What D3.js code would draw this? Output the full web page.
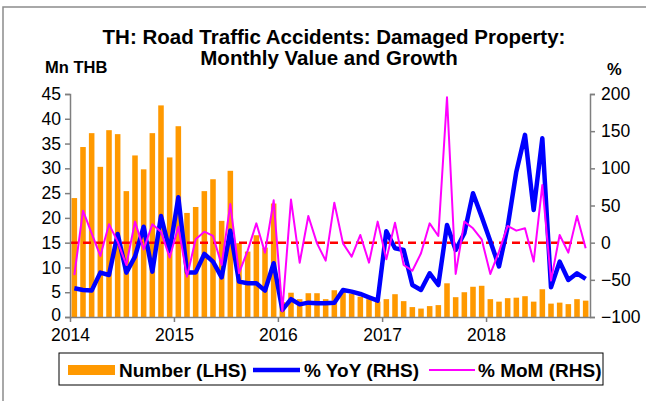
<!DOCTYPE html>
<html>
<head>
<meta charset="utf-8">
<script src="https://cdn.jsdelivr.net/npm/d3@7"></script>
<style>
  body { margin: 0; background: #fff; }
  svg { font-family: Arial, "Liberation Sans", sans-serif; }
</style>
</head>
<body>
<div id="chart"></div>
<script>
// Monthly data, Jan 2014 - Dec 2018
var years = [2014, 2015, 2016, 2017, 2018];

var number = [
  24.0, 34.3, 37.1, 30.3, 37.7, 36.9, 25.4, 32.6, 29.8, 37.1, 42.7, 32.2,
  38.5, 21.0, 22.2, 25.4, 27.8, 19.4, 29.5, 14.9, 13.2, 16.5, 14.0, 22.9,
  3.0, 4.9, 3.6, 4.8, 4.8, 3.6, 5.4, 5.4, 4.7, 4.1, 3.6, 3.1,
  3.6, 4.6, 3.2, 2.0, 1.7, 2.2, 2.4, 6.8, 4.0, 5.0, 6.1, 6.3,
  3.6, 3.1, 3.8, 3.9, 4.2, 3.1, 5.6, 2.7, 2.9, 2.6, 3.6, 3.3
];

var yoy = [
  -61.4, -63.6, -64.5, -40.3, -43.5, 11.7, -40.3, -18.8, 21.5, -39, 35.9, -11,
  61, -40, -40, -15.2, -25.5, -46.6, 16.2, -52.4, -54.7, -54.7, -64.5, -27.7,
  -90.5, -76, -83, -80.7, -81.6, -81.6, -80.7, -63.6, -65.9, -69, -73.5, -78,
  15.5, -7.6, -9.8, -56.9, -63.6, -41.2, -57, 23.8, -9.8, 12.6, 66.5, 35,
  2, -32, 21.5, 95.5, 145, 44, 140.4, -60, -25.5, -50.2, -41.2, -48.8
];

var mom = [
  -43.5, 43, 12.6, -17.9, 24.7, 1.4, -30, 28.3, -9, 24.7, 14.8, -20,
  21.5, -45.7, 4.5, 14.8, 9, -30, 52, -41, -10.7, 26, -13.4, 57,
  -92, 58, -27, 35.9, -1, -24.2, 53.8, -1, -18.8, 10.4, -26.9, 28.3,
  -22.4, 26.9, -30, -37.7, -14.3, 26, 9, 195.6, -42.1, 28.3, 19.3, 4.5,
  -42.1, -12, 22.5, 16.2, 19.3, -25.5, 77.6, -51, 10.4, -13.4, 35.9, -7.6
];

var leftTicks = [0, 5, 10, 15, 20, 25, 30, 35, 40, 45]
  , rightTicks = [-100, -50, 0, 50, 100, 150, 200];

// Sizes
var W = 646, H = 401
  , plot = {left: 70, right: 590, top: 94, bottom: 317}
  , axisColor = "#7f7f7f";

var svg = d3.select("#chart").append("svg")
  .attr("width", W)
  .attr("height", H);

// Outer frame
svg.append("path")
  .attr("d", "M3," + H + "V7H" + W)
  .attr("fill", "none")
  .attr("stroke", "#8c8c8c")
  .attr("stroke-width", 1.5);

// Scales
var months = d3.range(number.length);
var xBand = d3.scaleBand().domain(months).range([plot.left, plot.right]).paddingInner(0.36).paddingOuter(0.18);
var xTime = d3.scaleTime()
  .domain([new Date(years[0], 0, 1), new Date(years[years.length - 1] + 1, 0, 1)])
  .range([plot.left, plot.right]);
var yLeft = d3.scaleLinear().domain([0, 45]).range([plot.bottom, plot.top]);
var yRight = d3.scaleLinear().domain([-100, 200]).range([plot.bottom, plot.top]);

function xMid(i) { return xBand(i) + xBand.bandwidth() / 2; }

// Bars
svg.append("g").selectAll("rect")
  .data(number)
  .join("rect")
  .attr("x", function(d, i) { return xBand(i); })
  .attr("y", function(d) { return yLeft(d); })
  .attr("width", xBand.bandwidth())
  .attr("height", function(d) { return yLeft(0) - yLeft(d); })
  .attr("fill", "#ff9900");

// Zero line for growth
svg.append("line")
  .attr("x1", plot.left).attr("x2", plot.right)
  .attr("y1", yRight(0)).attr("y2", yRight(0))
  .attr("stroke", "#ff0000")
  .attr("stroke-width", 2.5)
  .attr("stroke-dasharray", "8,5");

// Lines
var lineRight = d3.line()
  .x(function(d, i) { return xMid(i); })
  .y(function(d) { return yRight(d); });

svg.append("path")
  .datum(yoy)
  .attr("d", lineRight)
  .attr("fill", "none")
  .attr("stroke", "#0000ff")
  .attr("stroke-width", 4.5)
  .attr("stroke-linejoin", "round");

svg.append("path")
  .datum(mom)
  .attr("d", lineRight)
  .attr("fill", "none")
  .attr("stroke", "#ff00ff")
  .attr("stroke-width", 2)
  .attr("stroke-linejoin", "round");

// Axes
function styleAxis(g) {
  g.selectAll("path, line").attr("stroke", axisColor).attr("stroke-width", 1.5);
  g.selectAll("text").attr("fill", "#000").attr("font-size", 17.5);
  g.attr("font-family", null);
}

svg.append("g")
  .attr("transform", "translate(" + plot.left + ",0)")
  .call(d3.axisLeft(yLeft).tickValues(leftTicks).tickSize(5).tickSizeOuter(5).tickPadding(4))
  .call(styleAxis)
  // nudge the bottom label up so it clears the year labels
  .selectAll(".tick text")
  .filter(function(d) { return d === 0; })
  .attr("dy", "0.2em");

svg.append("g")
  .attr("transform", "translate(" + plot.right + ",0)")
  .call(d3.axisRight(yRight).tickValues(rightTicks).tickSize(5).tickSizeOuter(5).tickPadding(6))
  .call(styleAxis);

svg.append("g")
  .attr("transform", "translate(0," + plot.bottom + ")")
  .call(d3.axisBottom(xTime)
    .tickValues(years.map(function(y) { return new Date(y, 0, 1); }))
    .tickFormat(d3.timeFormat("%Y"))
    .tickSize(5).tickSizeOuter(0).tickPadding(7))
  .call(styleAxis);

// Titles
var title = svg.append("text")
  .attr("text-anchor", "middle")
  .attr("font-weight", "bold")
  .attr("font-size", 20.5);
title.append("tspan").attr("x", 334).attr("y", 44).text("TH: Road Traffic Accidents: Damaged Property:");
title.append("tspan").attr("x", 329).attr("y", 65).text("Monthly Value and Growth");

svg.append("text")
  .attr("x", 45).attr("y", 73)
  .attr("font-weight", "bold").attr("font-size", 16.5)
  .text("Mn THB");

svg.append("text")
  .attr("x", 607).attr("y", 75)
  .attr("font-weight", "bold").attr("font-size", 16.5)
  .text("%");

// Legend
var legend = svg.append("g");
legend.append("rect")
  .attr("x", 59).attr("y", 353)
  .attr("width", 544).attr("height", 32)
  .attr("fill", "#fff")
  .attr("stroke", "#000")
  .attr("stroke-width", 1);

var legendItems = [
  {label: "Number (LHS)", x: 68, textX: 119},
  {label: "% YoY (RHS)", x: 253, textX: 304},
  {label: "% MoM (RHS)", x: 429, textX: 478}
];

legend.append("rect")
  .attr("x", legendItems[0].x).attr("y", 365)
  .attr("width", 47).attr("height", 10)
  .attr("fill", "#ff9900");
legend.append("line")
  .attr("x1", legendItems[1].x).attr("x2", legendItems[1].x + 47)
  .attr("y1", 370).attr("y2", 370)
  .attr("stroke", "#0000ff").attr("stroke-width", 4.5);
legend.append("line")
  .attr("x1", legendItems[2].x).attr("x2", legendItems[2].x + 46)
  .attr("y1", 370).attr("y2", 370)
  .attr("stroke", "#ff00ff").attr("stroke-width", 2);

legend.selectAll("text.lbl")
  .data(legendItems)
  .join("text")
  .attr("class", "lbl")
  .attr("x", function(d) { return d.textX; })
  .attr("y", 377)
  .attr("font-weight", "bold")
  .attr("font-size", 19)
  .text(function(d) { return d.label; });
</script>
</body>
</html>
